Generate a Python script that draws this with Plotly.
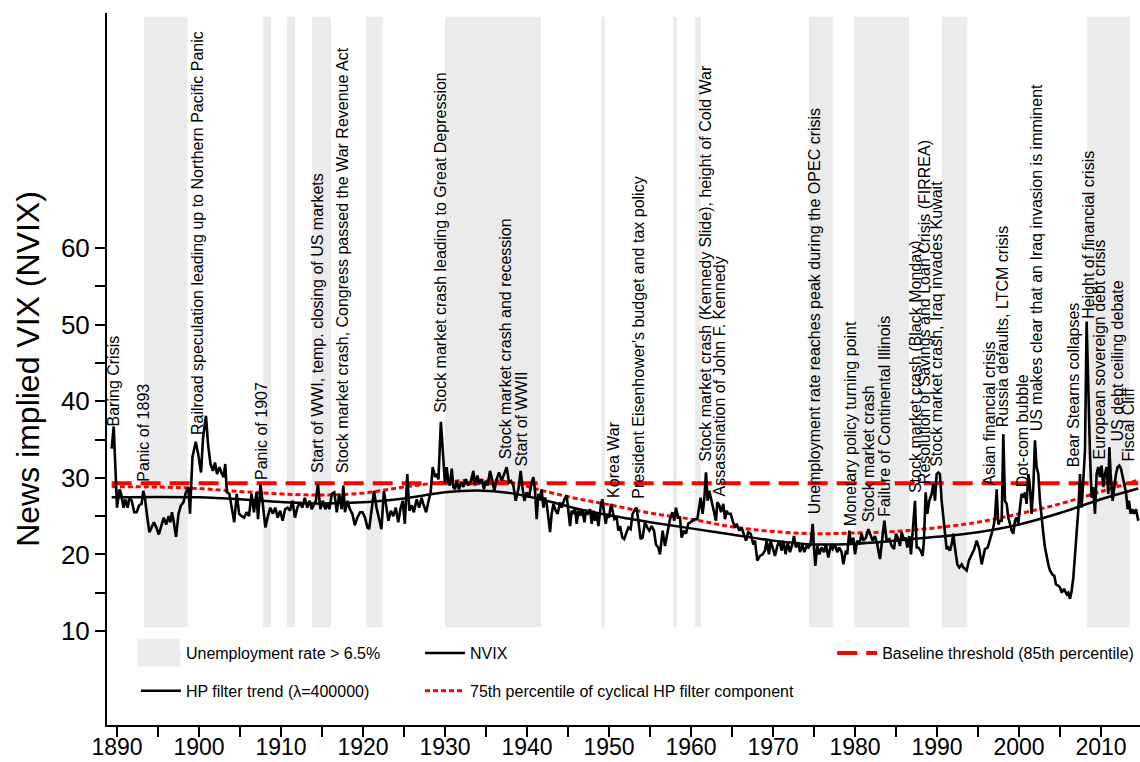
# News implied VIX (NVIX) with event labels and high-unemployment periods

import plotly.graph_objects as go

# --- data -----------------------------------------------------------------------------------------------------

nvix_year = [
    1889.35, 1889.6, 1890.0, 1890.3, 1890.5, 1890.8, 1891.0, 1891.3, 1891.5, 1891.8, 1892.1, 1892.4,
    1892.7, 1893.0, 1893.2, 1893.4, 1893.7, 1893.95, 1894.2, 1894.5, 1894.8, 1895.1, 1895.45, 1895.7,
    1896.0, 1896.3, 1896.5, 1896.7, 1896.9, 1897.2, 1897.5, 1897.8, 1898.1, 1898.4, 1898.7, 1898.9,
    1899.2, 1899.6, 1899.9, 1900.25, 1900.5, 1900.85, 1901.1, 1901.4, 1901.7, 1901.95, 1902.2, 1902.5,
    1902.8, 1903.0, 1903.2, 1903.4, 1903.7, 1904.0, 1904.3, 1904.6, 1904.9, 1905.2, 1905.5, 1905.8,
    1906.1, 1906.4, 1906.7, 1907.0, 1907.2, 1907.5, 1907.85, 1908.1, 1908.4, 1908.7, 1909.0, 1909.3,
    1909.6, 1909.9, 1910.2, 1910.5, 1910.8, 1911.1, 1911.4, 1911.7, 1912.0, 1912.3, 1912.6, 1912.9,
    1913.2, 1913.5, 1913.75, 1914.0, 1914.25, 1914.5, 1914.8, 1915.1, 1915.4, 1915.7, 1915.9, 1916.2,
    1916.5, 1916.8, 1917.1, 1917.4, 1917.6, 1917.8, 1918.1, 1918.4, 1918.7, 1919.0, 1919.3, 1919.65,
    1919.95, 1920.25, 1920.55, 1920.75, 1921.05, 1921.35, 1921.65, 1922.0, 1922.25, 1922.55, 1922.8, 1923.1,
    1923.4, 1923.7, 1924.0, 1924.3, 1924.6, 1924.85, 1925.1, 1925.4, 1925.65, 1925.95, 1926.2, 1926.55,
    1926.85, 1927.15, 1927.35, 1927.7, 1928.0, 1928.25, 1928.5, 1928.8, 1929.05, 1929.2, 1929.5, 1929.8,
    1930.0, 1930.2, 1930.41, 1930.61, 1930.82, 1931.02, 1931.22, 1931.43, 1931.71, 1931.96, 1932.24, 1932.52,
    1932.85, 1933.17, 1933.46, 1933.66, 1933.95, 1934.19, 1934.48, 1934.76, 1934.96, 1935.21, 1935.49, 1935.78,
    1936.02, 1936.3, 1936.59, 1936.91, 1937.24, 1937.52, 1937.81, 1938.05, 1938.34, 1938.62, 1938.95, 1939.23,
    1939.44, 1939.68, 1939.96, 1940.25, 1940.57, 1940.78, 1940.98, 1941.18, 1941.39, 1941.59, 1941.79, 1942.0,
    1942.2, 1942.4, 1942.61, 1942.81, 1943.01, 1943.22, 1943.5, 1943.74, 1944.03, 1944.23, 1944.56, 1944.84,
    1945.04, 1945.25, 1945.45, 1945.66, 1945.86, 1946.06, 1946.27, 1946.47, 1946.75, 1947.0, 1947.16, 1947.4,
    1947.69, 1947.89, 1948.1, 1948.3, 1948.5, 1948.71, 1949.03, 1949.19, 1949.4, 1949.6, 1949.8, 1950.0,
    1950.25, 1950.45, 1950.65, 1950.94, 1951.14, 1951.35, 1951.63, 1951.85, 1952.07, 1952.36, 1952.64, 1952.88,
    1953.17, 1953.37, 1953.58, 1953.86, 1954.1, 1954.39, 1954.67, 1954.92, 1955.2, 1955.49, 1955.73, 1956.01,
    1956.22, 1956.54, 1956.83, 1957.11, 1957.44, 1957.72, 1957.97, 1958.17, 1958.45, 1958.66, 1958.86, 1959.14,
    1959.39, 1959.67, 1959.96, 1960.2, 1960.49, 1960.77, 1961.02, 1961.18, 1961.42, 1961.62, 1961.83, 1962.03,
    1962.23, 1962.52, 1962.8, 1963.05, 1963.21, 1963.45, 1963.66, 1963.94, 1964.15, 1964.35, 1964.55, 1964.84,
    1965.08, 1965.36, 1965.57, 1965.89, 1966.18, 1966.46, 1966.71, 1966.99, 1967.28, 1967.6, 1967.8, 1968.09,
    1968.41, 1968.74, 1969.02, 1969.23, 1969.51, 1969.71, 1969.96, 1970.24, 1970.53, 1970.77, 1971.06, 1971.26,
    1971.54, 1971.79, 1972.07, 1972.36, 1972.56, 1972.8, 1973.09, 1973.29, 1973.58, 1973.82, 1974.1, 1974.31,
    1974.59, 1974.84, 1975.0, 1975.16, 1975.41, 1975.65, 1975.93, 1976.22, 1976.46, 1976.75, 1977.03, 1977.28,
    1977.56, 1977.84, 1978.09, 1978.37, 1978.58, 1978.9, 1979.06, 1979.31, 1979.51, 1979.8, 1980.0, 1980.28,
    1980.53, 1980.81, 1981.02, 1981.34, 1981.63, 1981.83, 1982.15, 1982.44, 1982.72, 1983.05, 1983.33, 1983.58,
    1983.86, 1984.19, 1984.47, 1984.76, 1985.0, 1985.28, 1985.49, 1985.69, 1985.98, 1986.18, 1986.38, 1986.63,
    1986.83, 1987.03, 1987.32, 1987.52, 1987.72, 1988.01, 1988.25, 1988.41, 1988.62, 1988.82, 1989.06, 1989.35,
    1989.55, 1989.76, 1989.96, 1990.16, 1990.36, 1990.57, 1990.77, 1990.97, 1991.18, 1991.38, 1991.58, 1991.79,
    1991.99, 1992.19, 1992.48, 1992.72, 1993.01, 1993.21, 1993.62, 1993.9, 1994.23, 1994.55, 1994.84, 1995.16,
    1995.45, 1995.65, 1995.85, 1996.18, 1996.46, 1996.67, 1996.87, 1997.07, 1997.28, 1997.48, 1997.68, 1997.89,
    1998.09, 1998.29, 1998.5, 1998.7, 1998.9, 1999.1, 1999.31, 1999.51, 1999.71, 1999.92, 2000.12, 2000.32,
    2000.53, 2000.73, 2000.93, 2001.14, 2001.34, 2001.54, 2001.75, 2001.95, 2002.15, 2002.36, 2002.56, 2002.76,
    2002.97, 2003.17, 2003.37, 2003.58, 2003.78, 2004.06, 2004.31, 2004.51, 2004.8, 2005.0, 2005.2, 2005.49,
    2005.81, 2006.02, 2006.22, 2006.42, 2006.63, 2006.83, 2007.03, 2007.23, 2007.44, 2007.64, 2007.84, 2008.05,
    2008.25, 2008.45, 2008.66, 2008.86, 2009.06, 2009.27, 2009.47, 2009.67, 2009.88, 2010.08, 2010.28, 2010.49,
    2010.69, 2010.89, 2011.02, 2011.18, 2011.42, 2011.63, 2011.83, 2012.03, 2012.24, 2012.44, 2012.64, 2012.85,
    2013.05, 2013.25, 2013.41, 2013.62, 2013.82, 2014.02, 2014.27, 2014.55,
]

nvix_value = [
    33.8, 36.7, 26.1, 28.5, 27.9, 26.1, 27.2, 26.1, 27.4, 27.0, 25.5, 25.5,
    26.4, 26.6, 28.3, 27.4, 24.8, 22.9, 23.5, 24.2, 23.5, 22.6, 23.9, 24.8,
    23.9, 25.0, 24.2, 25.5, 24.4, 22.3, 25.3, 26.4, 26.8, 28.1, 28.8, 25.3,
    32.7, 34.7, 33.1, 30.7, 35.3, 38.1, 34.4, 31.8, 30.9, 32.0, 30.5, 31.4,
    30.5, 30.1, 31.8, 28.1, 27.9, 25.9, 24.2, 27.9, 25.3, 25.0, 24.8, 25.5,
    25.0, 27.9, 25.5, 28.1, 24.6, 29.2, 25.5, 23.5, 25.0, 26.1, 25.3, 26.1,
    24.8, 25.7, 24.4, 25.9, 26.1, 25.7, 27.0, 24.8, 26.1, 26.8, 26.1, 27.4,
    26.1, 27.0, 25.9, 26.4, 27.0, 29.2, 25.9, 27.0, 25.9, 26.6, 25.9, 27.9,
    28.1, 25.5, 27.9, 25.9, 29.0, 25.5, 27.0, 25.9, 25.3, 23.8, 24.8, 25.5,
    25.5, 24.8, 23.5, 23.3, 26.1, 28.3, 26.1, 24.2, 23.3, 28.3, 26.6, 24.4,
    25.7, 25.0, 26.1, 24.2, 26.1, 27.0, 24.0, 30.5, 25.7, 26.4, 25.5, 27.2,
    26.1, 27.4, 26.6, 25.5, 27.0, 28.1, 31.4, 30.1, 30.5, 29.8, 37.3, 31.4,
    29.2, 31.4, 29.6, 29.0, 31.2, 28.8, 28.5, 29.6, 28.5, 29.4, 28.8, 29.8,
    29.0, 29.6, 30.9, 29.0, 30.3, 29.2, 29.8, 28.5, 29.6, 29.0, 30.9, 29.6,
    28.3, 29.8, 30.7, 29.6, 30.7, 31.4, 29.4, 29.6, 29.0, 27.0, 28.5, 30.9,
    28.8, 27.0, 28.1, 27.45, 29.4, 30.1, 28.3, 24.6, 27.9, 27.2, 28.5, 26.1,
    27.45, 26.6, 24.8, 22.9, 25.3, 26.6, 25.7, 25.3, 26.8, 26.1, 27.2, 27.7,
    25.7, 23.7, 25.7, 25.3, 26.1, 24.0, 25.7, 25.05, 25.9, 24.2, 25.5, 25.3,
    25.9, 24.0, 25.7, 24.4, 25.3, 23.7, 26.6, 27.2, 25.5, 24.0, 25.3, 24.8,
    26.6, 25.7, 24.6, 24.8, 23.1, 23.7, 22.2, 22.0, 22.7, 23.5, 23.3, 25.3,
    25.9, 26.1, 24.4, 22.0, 22.2, 24.2, 23.5, 23.1, 23.7, 23.1, 21.3, 20.9,
    20.0, 23.1, 21.1, 22.7, 24.6, 25.5, 24.4, 26.1, 24.8, 24.8, 22.2, 23.1,
    22.7, 24.0, 24.2, 24.4, 24.6, 24.6, 26.4, 27.4, 25.3, 27.2, 30.7, 27.0,
    28.3, 27.0, 25.9, 24.4, 26.8, 26.4, 25.5, 26.6, 24.6, 25.7, 25.3, 25.3,
    24.4, 23.5, 24.0, 23.1, 23.5, 22.7, 21.8, 22.9, 22.7, 21.3, 21.8, 19.2,
    19.8, 20.0, 20.5, 21.8, 20.0, 21.8, 20.7, 19.8, 21.1, 21.8, 20.5, 21.8,
    20.0, 21.6, 20.3, 21.3, 22.4, 20.9, 21.6, 20.3, 21.3, 20.3, 21.1, 20.9,
    21.3, 24.0, 20.9, 18.5, 21.1, 20.0, 20.9, 20.3, 21.3, 19.6, 21.1, 20.7,
    21.3, 20.3, 20.9, 20.3, 18.7, 20.5, 20.0, 23.1, 21.3, 22.2, 20.0, 21.8,
    21.3, 22.7, 21.8, 22.2, 23.3, 22.7, 21.8, 22.4, 21.3, 19.4, 21.8, 24.4,
    21.8, 22.0, 21.1, 20.7, 22.7, 22.0, 21.1, 22.9, 21.8, 22.2, 20.9, 22.4,
    20.0, 22.7, 27.0, 20.9, 20.9, 20.5, 19.8, 21.8, 28.1, 25.3, 27.0, 27.9,
    29.2, 27.0, 30.5, 30.7, 30.5, 27.0, 25.0, 22.7, 20.7, 20.9, 20.5, 21.3,
    22.7, 20.9, 18.7, 18.3, 18.7, 18.3, 17.9, 19.2, 20.0, 20.7, 21.8, 20.7,
    18.7, 19.6, 20.7, 20.9, 21.8, 22.7, 23.5, 24.8, 28.5, 23.9, 24.4, 24.4,
    35.7, 27.0, 26.6, 24.8, 24.0, 23.1, 22.7, 24.4, 24.8, 24.0, 26.1, 27.9,
    27.45, 28.1, 26.6, 30.5, 28.8, 25.3, 28.8, 34.9, 31.4, 30.5, 27.0, 24.4,
    22.7, 20.9, 19.6, 18.7, 17.9, 17.4, 17.2, 16.1, 15.9, 15.7, 15.0, 15.5,
    14.8, 15.0, 14.2, 15.2, 17.0, 19.6, 22.7, 25.7, 30.5, 26.1, 29.6, 33.5,
    50.4, 40.1, 33.1, 27.4, 28.8, 25.3, 30.5, 31.4, 30.1, 31.6, 28.8, 30.5,
    31.4, 27.9, 34.0, 30.5, 27.0, 28.8, 30.5, 31.4, 31.6, 31.2, 30.1, 28.8,
    28.1, 25.9, 27.0, 25.3, 25.9, 25.3, 25.9, 24.4,
]

# HP filter trend and 75th percentile band of the cyclical component
trend_year = [1889.35, 1895, 1900, 1905, 1910, 1915, 1920, 1925, 1930, 1934, 1938, 1942, 1946, 1950,
              1955, 1960, 1965, 1970, 1975, 1980, 1985, 1990, 1995, 2000, 2005, 2010, 2014.55]
hp_trend = [27.45, 27.5, 27.45, 27.2, 26.85, 26.65, 26.8, 27.3, 28.1, 28.35, 28.0, 27.1, 26.0, 25.1,
            24.2, 23.4, 22.6, 21.8, 21.3, 21.4, 21.8, 22.3, 22.9, 23.9, 25.4, 27.2, 28.6]
pct75 = [28.85, 28.8, 28.6, 28.2, 27.9, 27.75, 28.0, 28.8, 29.45, 29.7, 29.4, 28.3, 27.3, 26.5,
         25.4, 24.6, 23.6, 23.0, 22.7, 22.8, 23.0, 23.5, 24.2, 25.3, 26.6, 28.2, 29.7]

baseline_year = [1889.35, 2014.55]
baseline_value = [29.3, 29.3]

# periods with unemployment rate above 6.5%
unemp_start = [1893.3, 1907.8, 1910.7, 1913.8, 1920.4, 1930.0, 1949.1, 1957.8, 1960.5, 1974.4, 1979.9, 1990.6, 2008.3]
unemp_end = [1898.6, 1908.8, 1911.7, 1916.1, 1922.4, 1941.7, 1949.5, 1958.3, 1961.2, 1977.3, 1986.6, 1993.7, 2013.5]

# event labels
event_text = [
    "Baring Crisis",
    "Panic of 1893",
    "Railroad speculation leading up to Northern Pacific Panic",
    "Panic of 1907",
    "Start of WWI, temp. closing of US markets",
    "Stock market crash, Congress passed the War Revenue Act",
    "Stock market crash leading to Great Depression",
    "Stock market crash and recession",
    "Start of WWII",
    "Korea War",
    "President Eisenhower's budget and tax policy",
    "Stock market crash (Kennedy Slide), height of Cold War",
    "Assassination of John F. Kennedy",
    "Unemployment rate reaches peak during the OPEC crisis",
    "Monetary policy turning point",
    "Stock market crash",
    "Failure of Continental Illinois",
    "Stock market crash (Black Monday)",
    "Resolution of Savings and Loan Crisis (FIRREA)",
    "Stock market crash, Iraq invades Kuwait",
    "Asian financial crisis",
    "Russia defaults, LTCM crisis",
    "Dot-com bubble",
    "US makes clear that an Iraq invasion is imminent",
    "Bear Stearns collapses",
    "Height of financial crisis",
    "European sovereign debt crisis",
    "US debt ceiling debate",
    "Fiscal Cliff",
]
event_year = [1889.6, 1893.2, 1899.8, 1907.7, 1914.5, 1917.6, 1929.5, 1937.4, 1939.3, 1950.6,
              1953.5, 1961.8, 1963.5, 1975.0, 1979.4, 1981.6, 1983.5, 1987.4, 1988.5, 1990.0,
              1996.3, 1998.0, 2000.4, 2002.1, 2006.6, 2008.4, 2009.8, 2012.0, 2013.3]
event_value = [36.6, 29.4, 35.5, 29.6, 30.5, 30.5, 38.4, 32.3, 31.3, 27.3,
               27.1, 32.0, 27.4, 25.1, 23.5, 24.0, 24.8, 27.9, 29.0, 31.3,
               28.8, 36.4, 28.6, 35.9, 31.2, 50.6, 32.3, 34.6, 32.0]

# --- figure ---------------------------------------------------------------------------------------------------

FONT = "Liberation Sans, Arial, sans-serif"
GREY = "#EBEBEB"
BAND_LO, BAND_HI = 10.5, 90.2

# shaded periods as one filled trace (rectangles separated by None)
band_x, band_y = [], []
for s, e in zip(unemp_start, unemp_end):
    band_x += [s, e, e, s, s, None]
    band_y += [BAND_LO, BAND_LO, BAND_HI, BAND_HI, BAND_LO, None]

fig = go.Figure()

fig.add_trace(go.Scatter(
    x=band_x, y=band_y, mode="lines", fill="toself",
    fillcolor=GREY, line=dict(width=0, color=GREY),
    name="Unemployment rate > 6.5%", legend="legend", hoverinfo="skip"))

fig.add_trace(go.Scatter(
    x=trend_year, y=pct75, mode="lines", line_shape="spline",
    line=dict(color="#FF0000", width=3, dash="5px,3px"),
    name="75th percentile of cyclical HP filter component", legend="legend5"))

fig.add_trace(go.Scatter(
    x=baseline_year, y=baseline_value, mode="lines",
    line=dict(color="#FF0000", width=4, dash="20px,9px"),
    name="Baseline threshold (85th percentile)", legend="legend3"))

fig.add_trace(go.Scatter(
    x=trend_year, y=hp_trend, mode="lines", line_shape="spline",
    line=dict(color="black", width=2.5),
    name="HP filter trend (\u03bb=400000)", legend="legend4"))

fig.add_trace(go.Scatter(
    x=nvix_year, y=nvix_value, mode="lines",
    line=dict(color="black", width=2.6),
    name="NVIX", legend="legend2"))

# vertical event labels sitting on the series
for txt, xv, yv in zip(event_text, event_year, event_value):
    fig.add_annotation(
        x=xv, y=yv, text=txt, textangle=-90, showarrow=False,
        xanchor="center", yanchor="bottom", borderpad=0,
        font=dict(family=FONT, size=16, color="black"))

# bigger swatch for the shaded-period legend key (legend draws only a thin strip)
fig.add_shape(type="rect", xref="paper", yref="paper",
              x0=0.0295, x1=0.0705, y0=0.082, y1=0.121,
              fillcolor=GREY, line_width=0, layer="below")

leg = dict(bgcolor="rgba(0,0,0,0)", font=dict(family=FONT, size=16, color="black"),
           itemwidth=40, xanchor="left", yanchor="middle")

fig.update_layout(
    width=1140, height=762,
    margin=dict(l=107, r=0, t=13, b=37),
    plot_bgcolor="white", paper_bgcolor="white",
    font=dict(family=FONT, color="black"),
    showlegend=True,
    legend=dict(leg, x=0.028, y=0.101),
    legend2=dict(leg, x=0.303, y=0.101),
    legend3=dict(leg, x=0.702, y=0.101),
    legend4=dict(leg, x=0.028, y=0.048),
    legend5=dict(leg, x=0.303, y=0.048),
)

fig.update_xaxes(
    range=[1888.78, 2014.76], showgrid=False, zeroline=False,
    showline=True, linecolor="black", linewidth=2,
    tickmode="array", tickvals=list(range(1890, 2011, 10)),
    ticks="outside", ticklen=10, tickwidth=2, tickcolor="black",
    minor=dict(tickvals=list(range(1895, 2015, 10)), ticks="outside", ticklen=10, tickwidth=2, tickcolor="black"),
    tickfont=dict(family=FONT, size=23, color="black"),
    ticklabelstandoff=-10,
    automargin=False)

fig.update_yaxes(
    range=[-2.27, 90.68], showgrid=False, zeroline=False,
    showline=True, linecolor="black", linewidth=2,
    tickmode="array", tickvals=[10, 20, 30, 40, 50, 60],
    ticks="outside", ticklen=10, tickwidth=2, tickcolor="black",
    minor=dict(tickvals=[15, 25, 35, 45, 55], ticks="outside", ticklen=10, tickwidth=2, tickcolor="black"),
    tickfont=dict(family=FONT, size=26, color="black"),
    title=dict(text="News implied VIX (NVIX)", font=dict(family=FONT, size=32, color="black"), standoff=12),
    automargin=False)

# the page margin would shift the chart; drop it
fig.write_html("out.html", config={"displayModeBar": False},
               post_script="document.body.style.margin='0';")
